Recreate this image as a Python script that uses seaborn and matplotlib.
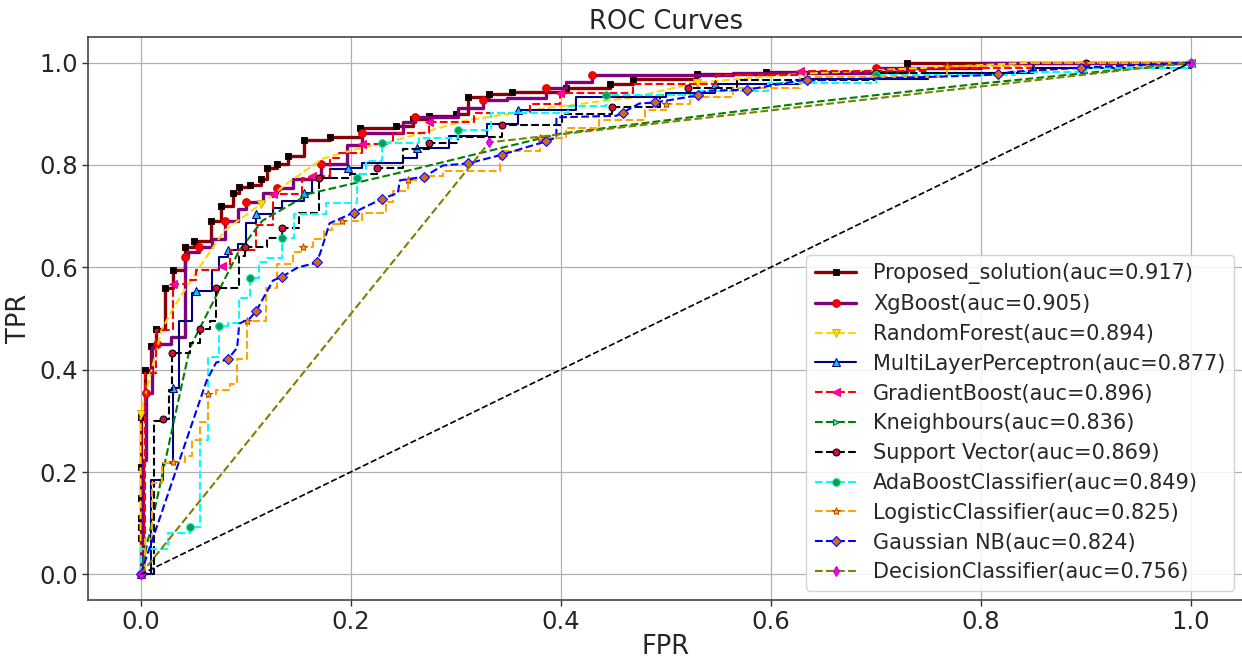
import numpy as np
import pandas as pd
import matplotlib
matplotlib.use("Agg")
import matplotlib.pyplot as plt
import seaborn as sns

# ---------------- data ----------------
prop_fpr = [0, 0, 0, 0, 0, 0, 0, 0.004, 0.010, 0.015, 0.023, 0.031, 0.042, 0.051, 0.067, 0.077,
            0.088, 0.094, 0.104, 0.115, 0.120, 0.130, 0.140, 0.156, 0.180, 0.209, 0.243, 0.259,
            0.275, 0.300, 0.312, 0.332, 0.354, 0.405, 0.447, 0.469, 0.530, 0.596, 0.730, 1.0]
prop_tpr = [0, 0.072, 0.092, 0.11, 0.15, 0.21, 0.307, 0.40, 0.447, 0.48, 0.56, 0.594, 0.64, 0.652,
            0.691, 0.72, 0.746, 0.756, 0.76, 0.773, 0.795, 0.802, 0.818, 0.848, 0.855, 0.873, 0.877,
            0.89, 0.896, 0.90, 0.932, 0.939, 0.943, 0.951, 0.959, 0.967, 0.978, 0.982, 1.0, 1.0]

xgb_fpr = [0, 0.002, 0.005, 0.011, 0.016, 0.029, 0.042, 0.045, 0.056, 0.068, 0.080, 0.093, 0.100,
           0.117, 0.130, 0.145, 0.172, 0.197, 0.211, 0.250, 0.261, 0.302, 0.326, 0.349, 0.386,
           0.405, 0.430, 0.564, 0.70, 0.80, 1.0]
xgb_tpr = [0, 0.223, 0.354, 0.444, 0.451, 0.463, 0.62, 0.63, 0.64, 0.656, 0.69, 0.713, 0.727,
           0.746, 0.754, 0.773, 0.802, 0.838, 0.863, 0.883, 0.893, 0.912, 0.926, 0.93, 0.951,
           0.963, 0.975, 0.98, 0.99, 1.0, 1.0]

rf_fpr = [0, 0, 0.02, 0.031, 0.056, 0.08, 0.115, 0.139, 0.173, 0.211, 0.243, 0.275, 0.31, 0.39,
          0.469, 0.53, 0.628, 0.75, 0.85, 1.0]
rf_tpr = [0, 0.314, 0.477, 0.52, 0.60, 0.672, 0.724, 0.763, 0.812, 0.834, 0.848, 0.867, 0.887,
          0.912, 0.932, 0.961, 0.978, 0.99, 1.0, 1.0]

mlp_fpr = [0, 0.010, 0.021, 0.031, 0.037, 0.049, 0.053, 0.068, 0.075, 0.083, 0.093, 0.100, 0.110,
           0.126, 0.135, 0.156, 0.163, 0.180, 0.198, 0.211, 0.250, 0.263, 0.294, 0.330, 0.359,
           0.415, 0.500, 0.547, 0.628, 0.75, 0.85, 1.0]
mlp_tpr = [0, 0.184, 0.217, 0.365, 0.496, 0.549, 0.553, 0.594, 0.62, 0.633, 0.646, 0.686, 0.705,
           0.715, 0.73, 0.746, 0.775, 0.793, 0.795, 0.803, 0.814, 0.834, 0.857, 0.88, 0.908,
           0.932, 0.941, 0.959, 0.967, 0.98, 0.99, 1.0]

gb_fpr = [0, 0.004, 0.015, 0.031, 0.042, 0.053, 0.078, 0.085, 0.110, 0.126, 0.136, 0.154, 0.163,
          0.180, 0.189, 0.211, 0.235, 0.240, 0.275, 0.318, 0.371, 0.399, 0.469, 0.548, 0.628,
          0.75, 0.85, 1.0]
gb_tpr = [0, 0.393, 0.477, 0.568, 0.575, 0.595, 0.603, 0.633, 0.682, 0.744, 0.744, 0.775, 0.779,
          0.814, 0.824, 0.841, 0.842, 0.863, 0.883, 0.902, 0.92, 0.941, 0.959, 0.975, 0.984,
          0.99, 1.0, 1.0]

knn_fpr = [0, 0.047, 0.094, 0.116, 0.161, 0.247, 0.399, 0.628, 0.80, 1.0]
knn_tpr = [0, 0.443, 0.633, 0.691, 0.744, 0.785, 0.861, 0.92, 0.959, 1.0]

svc_fpr = [0, 0.013, 0.021, 0.027, 0.030, 0.047, 0.057, 0.066, 0.072, 0.094, 0.099, 0.120, 0.135,
           0.151, 0.170, 0.199, 0.225, 0.25, 0.275, 0.302, 0.344, 0.401, 0.449, 0.495, 0.521,
           0.568, 0.70, 0.85, 0.90, 1.0]
svc_tpr = [0, 0.30, 0.303, 0.36, 0.432, 0.453, 0.48, 0.496, 0.559, 0.623, 0.64, 0.658, 0.676,
           0.707, 0.775, 0.783, 0.795, 0.832, 0.842, 0.855, 0.879, 0.9, 0.914, 0.936, 0.951,
           0.965, 0.98, 0.99, 1.0, 1.0]

ada_fpr = [0, 0.0, 0.026, 0.047, 0.057, 0.064, 0.075, 0.083, 0.094, 0.104, 0.113, 0.120, 0.135,
           0.146, 0.177, 0.206, 0.209, 0.215, 0.23, 0.245, 0.265, 0.302, 0.334, 0.407, 0.443,
           0.532, 0.598, 0.70, 0.833, 0.9, 1.0]
ada_tpr = [0, 0.05, 0.08, 0.092, 0.262, 0.424, 0.486, 0.492, 0.541, 0.58, 0.61, 0.619, 0.658,
           0.705, 0.725, 0.775, 0.783, 0.808, 0.842, 0.842, 0.852, 0.869, 0.902, 0.916, 0.936,
           0.945, 0.961, 0.975, 0.982, 0.99, 1.0]

lr_fpr = [0, 0.004, 0.011, 0.020, 0.031, 0.042, 0.049, 0.057, 0.064, 0.072, 0.085, 0.092, 0.101,
          0.119, 0.130, 0.145, 0.155, 0.164, 0.175, 0.182, 0.192, 0.211, 0.234, 0.24, 0.255,
          0.275, 0.288, 0.342, 0.38, 0.405, 0.437, 0.48, 0.5, 0.523, 0.564, 0.628, 0.768, 0.85, 1.0]
lr_tpr = [0, 0.07, 0.178, 0.217, 0.22, 0.232, 0.262, 0.297, 0.353, 0.36, 0.373, 0.42, 0.496,
          0.56, 0.607, 0.629, 0.64, 0.656, 0.672, 0.684, 0.691, 0.707, 0.727, 0.75, 0.77,
          0.779, 0.789, 0.828, 0.852, 0.873, 0.887, 0.908, 0.92, 0.932, 0.951, 0.971, 0.994, 1.0, 1.0]

gnb_fpr = [0, 0.063, 0.072, 0.083, 0.092, 0.094, 0.104, 0.110, 0.126, 0.135, 0.150, 0.164, 0.168,
           0.172, 0.180, 0.203, 0.230, 0.245, 0.247, 0.270, 0.288, 0.312, 0.344, 0.386, 0.396,
           0.396, 0.453, 0.459, 0.475, 0.490, 0.531, 0.539, 0.578, 0.628, 0.635, 0.80, 0.817,
           0.83, 0.896, 1.0]
gnb_tpr = [0, 0.379, 0.414, 0.42, 0.443, 0.49, 0.50, 0.514, 0.574, 0.582, 0.60, 0.607, 0.611,
           0.633, 0.686, 0.707, 0.734, 0.745, 0.77, 0.777, 0.799, 0.803, 0.82, 0.846, 0.854,
           0.893, 0.896, 0.902, 0.92, 0.922, 0.936, 0.945, 0.947, 0.965, 0.965, 0.975, 0.977,
           0.982, 0.99, 1.0]

dt_fpr = [0, 0.332, 1.0]
dt_tpr = [0, 0.844, 1.0]

chance = [0, 1]

labels = ["Proposed_solution(auc=0.917)", "XgBoost(auc=0.905)", "RandomForest(auc=0.894)",
          "MultiLayerPerceptron(auc=0.877)", "GradientBoost(auc=0.896)", "Kneighbours(auc=0.836)",
          "Support Vector(auc=0.869)", "AdaBoostClassifier(auc=0.849)",
          "LogisticClassifier(auc=0.825)", "Gaussian NB(auc=0.824)", "DecisionClassifier(auc=0.756)"]

series = [(prop_fpr, prop_tpr), (xgb_fpr, xgb_tpr), (rf_fpr, rf_tpr), (mlp_fpr, mlp_tpr),
          (gb_fpr, gb_tpr), (knn_fpr, knn_tpr), (svc_fpr, svc_tpr), (ada_fpr, ada_tpr),
          (lr_fpr, lr_tpr), (gnb_fpr, gnb_tpr), (dt_fpr, dt_tpr)]

# ---------------- styles ----------------
styles = [
    dict(color="#8b0000", linewidth=2.4, linestyle="-", marker="s", markerfacecolor="black",
         markeredgecolor="#300000", markersize=5, drawstyle="steps-post", markevery=1),
    dict(color="#800080", linewidth=2.4, linestyle="-", marker="o", markerfacecolor="red",
         markeredgecolor="#d00000", markersize=5.5, drawstyle="steps-post", markevery=2),
    dict(color="#ffd700", linewidth=1.5, linestyle="--", marker="v", markerfacecolor="#ffe000",
         markeredgecolor="#e0b000", markersize=6, drawstyle="default", markevery=[1, 6, 15]),
    dict(color="#000080", linewidth=1.5, linestyle="-", marker="^", markerfacecolor="#00c8ff",
         markeredgecolor="#000080", markersize=5.5, drawstyle="steps-post", markevery=3),
    dict(color="#ff0000", linewidth=1.5, linestyle="--", marker="<", markerfacecolor="#ff00c0",
         markeredgecolor="#ff0060", markersize=6, drawstyle="steps-post", markevery=3),
    dict(color="#008000", linewidth=1.5, linestyle="--", marker=">", markerfacecolor="#40e0d0",
         markeredgecolor="#008000", markersize=5, drawstyle="default", markevery=[0, 9]),
    dict(color="black", linewidth=1.5, linestyle="--", marker="o", markerfacecolor="#d0103a",
         markeredgecolor="black", markersize=5, drawstyle="steps-post", markevery=2),
    dict(color="#00ffff", linewidth=1.5, linestyle="--", marker="o", markerfacecolor="#0a9e4a",
         markeredgecolor="#00e0c0", markersize=5.5, drawstyle="steps-post", markevery=3),
    dict(color="#ffa500", linewidth=1.5, linestyle="--", marker="*", markerfacecolor="#ffa500",
         markeredgecolor="#c05000", markersize=6, drawstyle="steps-post", markevery=4),
    dict(color="#0000ff", linewidth=1.5, linestyle="--", marker="D", markerfacecolor="#d2691e",
         markeredgecolor="#0000ff", markersize=5.5, drawstyle="default",
         markevery=[0, 3, 7, 9, 12, 15, 16, 19, 21, 22, 23, 27, 29, 30, 32, 34, 36, 38]),
    dict(color="#808000", linewidth=1.5, linestyle="--", marker="d", markerfacecolor="#ff00ff",
         markeredgecolor="#c000c0", markersize=5.5, drawstyle="default", markevery=1),
]

# ---------------- figure ----------------
sns.set_style("ticks")
plt.rcParams["font.family"] = ["DejaVu Sans"]

fig = plt.figure(figsize=(12.42, 6.58), dpi=100)
ax = fig.add_axes([0.0709, 0.0881, 0.9300, 0.8557])

ax.grid(True, color="#b0b0b0", linewidth=0.9)
ax.set_axisbelow(True)

for (fx, ty), lab, st in zip(series, labels, styles):
    df = pd.DataFrame({"FPR": fx, "TPR": ty})
    sns.lineplot(data=df, x="FPR", y="TPR", ax=ax, sort=False, estimator=None,
                 label=lab, **st)

sns.lineplot(x=chance, y=chance, ax=ax, color="black", linestyle="--", linewidth=1.2,
             sort=False, estimator=None)

ax.set_xlim(-0.05, 1.05)
ax.set_ylim(-0.05, 1.05)
ax.set_xticks([0.0, 0.2, 0.4, 0.6, 0.8, 1.0])
ax.set_yticks([0.0, 0.2, 0.4, 0.6, 0.8, 1.0])
ax.tick_params(labelsize=17.5, length=4, width=1, color="#333333")
ax.set_xlabel("FPR", fontsize=18.5, labelpad=0)
ax.set_ylabel("TPR", fontsize=18.5, labelpad=5)
ax.set_title("ROC Curves", fontsize=18.5, pad=6)
for s in ax.spines.values():
    s.set_color("#444444")
    s.set_linewidth(1.2)

leg = ax.legend(loc="lower right", fontsize=15.0, labelspacing=0.47, frameon=True,
                framealpha=0.85, borderpad=0.4, handlelength=2.0, borderaxespad=0.45)

fig.savefig("out.png", dpi=100)
